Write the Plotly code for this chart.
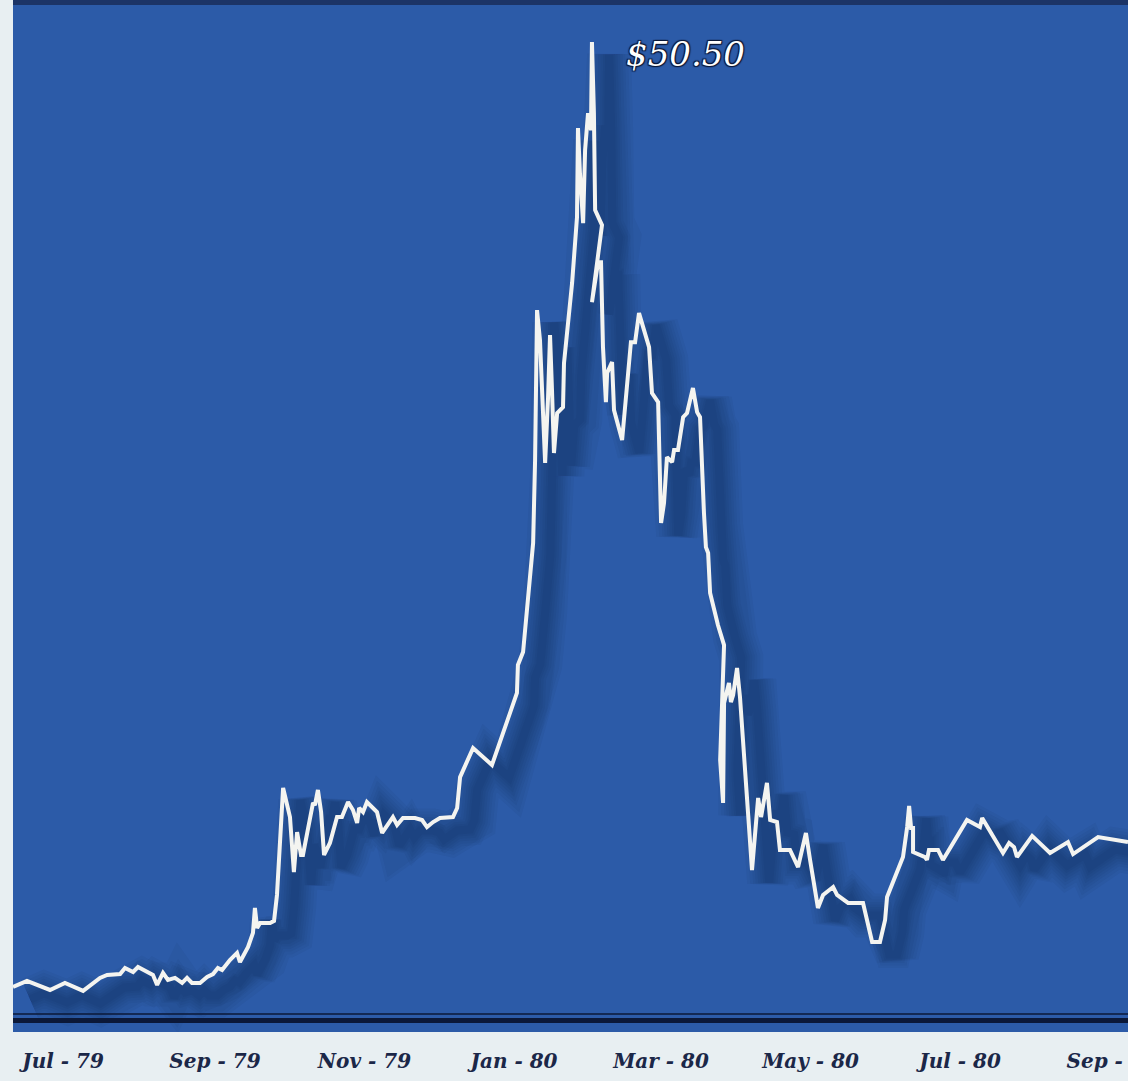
import pandas as pd
import plotly.graph_objects as go

# Silver price, Jul 1979 - Sep 1980 (US$ per troy ounce)
day_offset = [
    -20.4, -14.7, -5.3, 0.8, 8.2, 15.1, 18.0, 23.3, 25.3, 28.6, 30.6, 34.3, 36.7, 38.4,
    40.8, 42.8, 45.7, 48.6, 50.6, 52.6, 55.9, 58.8, 61.2, 63.2, 64.9, 68.1, 71.0, 72.2,
    75.5, 77.5, 78.3, 79.2, 80.4, 84.5, 86.1, 87.3, 89.8, 92.6, 94.2, 95.5, 97.1, 97.9,
    100.0, 102.0, 102.8, 104.0, 105.3, 106.5, 108.9, 111.8, 113.8, 116.3, 118.3, 120.0,
    120.8, 122.4, 124.0, 126.1, 128.1, 130.2, 132.6, 134.6, 136.3, 138.7, 143.6, 146.5,
    148.5, 151.0, 153.8, 159.1, 160.8, 162.0, 167.3, 175.0, 185.2, 185.6, 187.7, 189.7,
    191.8, 192.6, 193.4, 194.6, 195.8, 196.7, 197.9, 198.7, 199.5, 200.3, 201.6, 204.0,
    204.4, 207.7, 209.7, 210.1, 210.9, 212.2, 213.0, 214.2, 215.4, 215.8, 216.6, 217.1,
    219.9, 218.3, 215.8, 218.3, 219.5, 220.3, 221.5, 222.0, 224.0, 224.8, 228.1, 231.7,
    233.4, 235.0, 239.1, 240.3, 242.8, 244.0, 245.2, 246.4, 248.5, 249.3, 250.9, 253.0,
    254.6, 257.0, 258.7, 259.9, 261.5, 262.3, 263.2, 264.0, 267.2, 269.7, 268.1, 269.3,
    269.7, 271.7, 272.5, 273.4, 275.0, 276.2, 281.1, 283.6, 284.8, 287.2, 288.5, 291.3,
    292.5, 296.6, 299.9, 303.1, 304.8, 308.0, 310.1, 314.2, 315.8, 320.3, 326.4, 330.1,
    333.3, 335.4, 336.2, 342.7, 344.4, 345.2, 346.0, 346.8, 346.8, 351.7, 352.5, 353.3,
    357.0, 359.0, 368.8, 374.1, 375.0, 383.5, 386.0, 388.0, 389.2, 395.4, 402.7, 410.0,
    412.1, 422.3, 434.5,
]
price = [
    8.91, 9.18, 8.78, 9.09, 8.74, 9.31, 9.44, 9.48, 9.75, 9.57, 9.79, 9.57, 9.44, 9.00,
    9.53, 9.22, 9.31, 9.09, 9.31, 9.09, 9.09, 9.35, 9.48, 9.75, 9.66, 10.10, 10.41, 10.01,
    10.67, 11.29, 12.39, 11.51, 11.73, 11.73, 11.82, 12.96, 17.67, 16.39, 13.97, 15.73, 14.72, 14.72,
    15.95, 17.01, 16.92, 17.58, 16.61, 14.72, 15.25, 16.39, 16.39, 17.05, 16.70, 16.13,
    16.79, 16.61, 17.05, 16.83, 16.61, 15.69, 16.04, 16.39, 16.04, 16.35, 16.35, 16.26,
    15.95, 16.17, 16.35, 16.39, 16.79, 18.15, 19.43, 18.68, 21.85, 23.08, 23.65, 25.94,
    28.45, 32.10, 38.70, 37.38, 34.17, 31.97, 34.87, 37.60, 35.18, 32.41, 34.17, 34.43,
    36.37, 39.89, 42.79, 46.71, 44.73, 42.53, 45.74, 47.37, 46.62, 50.50, 47.37, 43.10,
    42.44, 41.12, 39.05, 40.81, 40.81, 37.07, 34.65, 35.93, 36.41, 34.30, 32.98, 37.29,
    37.29, 38.57, 37.07, 35.05, 34.65, 29.33, 30.21, 32.23, 32.01, 32.54, 32.54, 33.99,
    34.17, 35.27, 34.21, 33.99, 29.77, 28.27, 28.01, 26.25, 24.84, 23.96, 18.90, 17.01,
    21.41, 22.29, 21.45, 21.76, 22.95, 21.67, 14.06, 17.23, 16.39, 17.89, 16.26, 16.17,
    14.94, 14.94, 14.19, 15.69, 14.50, 12.39, 12.96, 13.31, 12.96, 12.61, 12.61, 10.89,
    10.89, 11.86, 12.87, 14.63, 15.95, 16.88, 15.91, 15.91, 14.85, 14.63, 14.50, 14.94,
    14.94, 14.50, 16.26, 15.95, 16.35, 14.81, 15.25, 15.07, 14.63, 15.56, 14.81, 15.29,
    14.76, 15.51, 15.29,
]

tick_dates = ["1979-07-01", "1979-09-01", "1979-11-01", "1980-01-01",
              "1980-03-01", "1980-05-01", "1980-07-01", "1980-09-01"]
tick_labels = ["Jul - 79", "Sep - 79", "Nov - 79", "Jan - 80",
               "Mar - 80", "May - 80", "Jul - 80", "Sep - 80"]

peak_label = "$50.50"
peak_value = 50.50

start = pd.Timestamp("1979-07-01")
dates = start + pd.to_timedelta(day_offset, unit="D")
peak_date = dates[price.index(peak_value)]

x_lo = start + pd.Timedelta(days=-20.4)
x_hi = start + pd.Timedelta(days=434.5)
y_lo, y_hi = 6.93, 52.26

# drop shadow: the same series nudged right and down, drawn soft and dark
shadow_dx = pd.Timedelta(days=7)
shadow_dy = 0.55
shadow_x = dates + shadow_dx
shadow_y = [p - shadow_dy for p in price]

BLUE = "#2c5ba8"
NAVY = "#0b1838"

fig = go.Figure()

# stacked translucent strokes build up a soft-edged shadow
for w in [44, 38, 32, 27, 22, 17, 12, 8]:
    fig.add_trace(go.Scatter(
        x=shadow_x, y=shadow_y, mode="lines",
        line=dict(color="rgba(8,18,55,0.045)", width=w),
        hoverinfo="skip", showlegend=False,
    ))

fig.add_trace(go.Scatter(
    x=dates, y=price, mode="lines",
    line=dict(color="#f4f4f0", width=4),
    showlegend=False,
))

fig.add_annotation(
    x=peak_date, y=peak_value, xref="x", yref="y",
    text=peak_label, showarrow=False,
    xanchor="left", yanchor="middle", xshift=32, yshift=-12,
    font=dict(family="DejaVu Serif", size=34, color="white", style="italic",
              shadow=f"1px 1px 1px {NAVY}, -1px -1px 1px {NAVY}, 1px -1px 1px {NAVY}, -1px 1px 1px {NAVY}"),
)

# dark rules along the bottom of the panel
fig.add_shape(type="line", xref="paper", yref="paper", x0=0, x1=1, y0=0.0175, y1=0.0175,
              line=dict(color=NAVY, width=1.5))
fig.add_shape(type="line", xref="paper", yref="paper", x0=0, x1=1, y0=0.0112, y1=0.0112,
              line=dict(color=NAVY, width=5))
# darker rim along the top
fig.add_shape(type="line", xref="paper", yref="paper", x0=0, x1=1, y0=1, y1=1,
              line=dict(color="#1c3466", width=6))

fig.update_layout(
    width=1128, height=1081,
    margin=dict(l=13, r=0, t=2, b=49, autoexpand=False),
    paper_bgcolor="#e8eff2",
    plot_bgcolor=BLUE,
    xaxis=dict(type="date", range=[x_lo, x_hi], showgrid=False, zeroline=False,
               showline=False, tickmode="array", tickvals=tick_dates, ticktext=tick_labels,
               ticks="", ticklabelstandoff=15, ticklabeloverflow="allow", automargin=False,
               tickfont=dict(family="DejaVu Serif", size=20, color="#1b2748",
                             style="italic", weight="bold")),
    yaxis=dict(range=[y_lo, y_hi], showgrid=False, zeroline=False, showline=False,
               showticklabels=False, ticks="", automargin=False),
)

fig.write_html("out.html")
